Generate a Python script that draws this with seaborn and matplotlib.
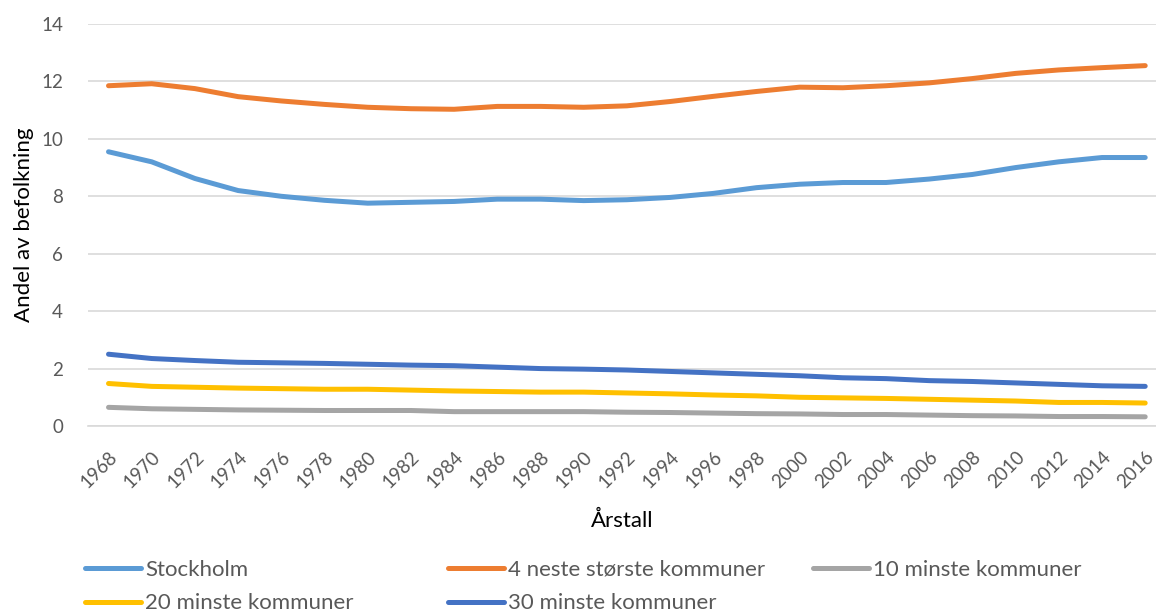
import numpy as np
import pandas as pd
import seaborn as sns
import matplotlib.pyplot as plt
from matplotlib.lines import Line2D

years = list(range(1968, 2017, 2))

stockholm = [9.55, 9.2, 8.62, 8.2, 8.0, 7.86, 7.76, 7.79, 7.82, 7.9, 7.9, 7.85, 7.88,
             7.96, 8.1, 8.3, 8.42, 8.48, 8.48, 8.6, 8.76, 9.0, 9.2, 9.35, 9.35]
neste4 = [11.85, 11.92, 11.75, 11.47, 11.32, 11.2, 11.1, 11.05, 11.03, 11.13, 11.13, 11.1, 11.15,
          11.3, 11.48, 11.65, 11.8, 11.78, 11.85, 11.95, 12.1, 12.28, 12.4, 12.48, 12.55]
minste10 = [0.65, 0.6, 0.58, 0.56, 0.55, 0.54, 0.54, 0.54, 0.5, 0.5, 0.5, 0.5, 0.48,
            0.47, 0.45, 0.43, 0.42, 0.4, 0.4, 0.38, 0.36, 0.35, 0.33, 0.33, 0.32]
minste20 = [1.48, 1.38, 1.35, 1.32, 1.3, 1.28, 1.28, 1.25, 1.22, 1.2, 1.18, 1.18, 1.15,
            1.12, 1.08, 1.05, 1.0, 0.98, 0.96, 0.93, 0.9, 0.87, 0.82, 0.82, 0.8]
minste30 = [2.5, 2.35, 2.28, 2.22, 2.2, 2.18, 2.15, 2.12, 2.1, 2.05, 2.0, 1.98, 1.95,
            1.9, 1.85, 1.8, 1.75, 1.68, 1.65, 1.58, 1.55, 1.5, 1.45, 1.4, 1.38]

series = {
    "Stockholm": stockholm,
    "4 neste største kommuner": neste4,
    "10 minste kommuner": minste10,
    "20 minste kommuner": minste20,
    "30 minste kommuner": minste30,
}
colors = ["#5B9BD5", "#ED7D31", "#A5A5A5", "#FFC000", "#4472C4"]

rows = []
for name, vals in series.items():
    for yr, v in zip(years, vals):
        rows.append({"year": yr, "value": v, "serie": name})
df = pd.DataFrame(rows)

sns.set_style("white")
plt.rcParams['font.family'] = ['Lato', 'DejaVu Sans']

fig = plt.figure(figsize=(11.56, 6.16), dpi=100)
ax = fig.add_axes([88 / 1156, 1 - 426 / 616, 1 - 88 / 1156, (426 - 24) / 616])

sns.lineplot(data=df, x="year", y="value", hue="serie", palette=colors,
             linewidth=3.6, ax=ax, legend=False, solid_capstyle="round")

ax.set_xlim(1967.05, 2016.5)
ax.set_ylim(0, 14)
ax.set_yticks(range(0, 15, 2))
ax.set_xticks(years)
ax.set_xticklabels([str(y) for y in years], rotation=45, ha="right", rotation_mode="anchor")
ax.tick_params(axis="both", colors="#595959", length=0)
ax.tick_params(axis="x", labelsize=13.5, pad=16)
ax.tick_params(axis="y", labelsize=13.5, pad=18)
ax.grid(axis="y", color="#D9D9D9", linewidth=1.2)
ax.set_axisbelow(True)
for s in ["top", "right", "left"]:
    ax.spines[s].set_visible(False)
ax.spines["bottom"].set_color("#D9D9D9")
ax.spines["bottom"].set_linewidth(1.2)

ax.set_xlabel("Årstall", fontsize=16, color="black", labelpad=14)
ax.set_ylabel("Andel av befolkning", fontsize=16, color="black", labelpad=5)

# legend, three columns like the original
names = list(series.keys())
cols = [[0, 3], [1, 4], [2]]
xpos = [85 / 1156, 448 / 1156, 813 / 1156]
for xp, idx in zip(xpos, cols):
    handles = [Line2D([], [], color=colors[i], linewidth=3.6, solid_capstyle="round") for i in idx]
    leg = fig.legend(handles, [names[i] for i in idx], loc="upper left",
                     bbox_to_anchor=(xp, 1 - 560 / 616), frameon=False, fontsize=16,
                     handlelength=2.5, handletextpad=0.2, labelspacing=0.6,
                     borderaxespad=0, borderpad=0)
    for t in leg.get_texts():
        t.set_color("#595959")

fig.savefig("out.png", dpi=100)
